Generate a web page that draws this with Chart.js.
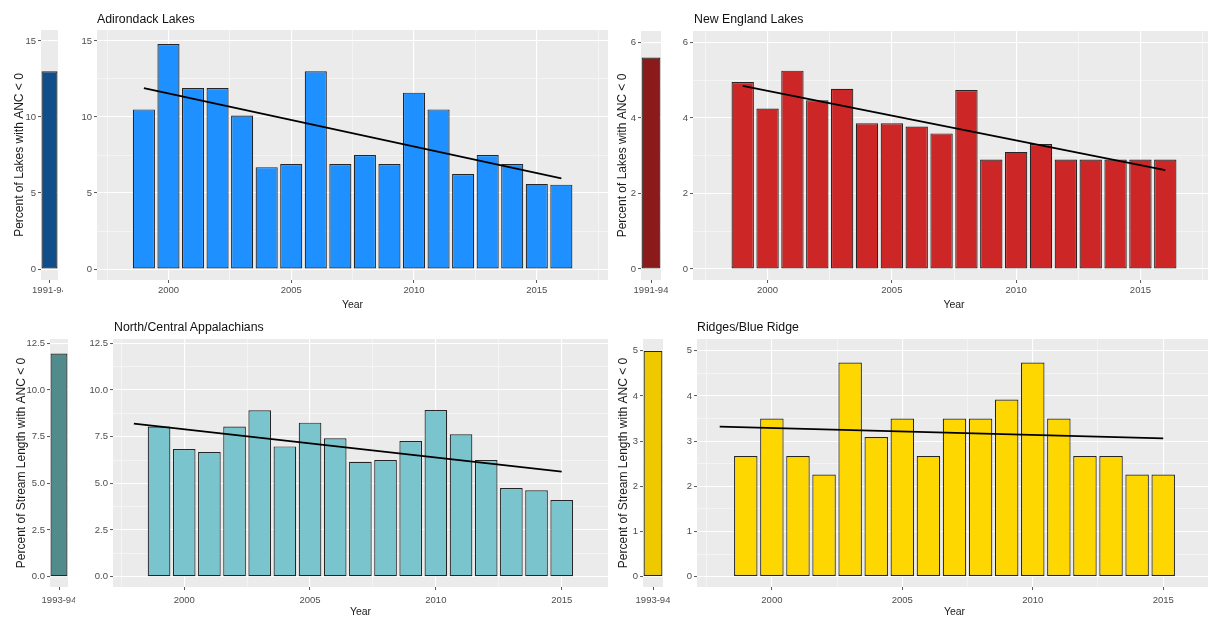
<!DOCTYPE html>
<html lang="en">
<head>
  <meta charset="UTF-8">
  <title>Percent of Lakes and Streams with ANC &lt; 0</title>

  <!-- Chart.js -->
  <script src="https://cdn.jsdelivr.net/npm/chart.js"></script>

  <style>
    body {
      margin: 0;
      width: 1208px;
      height: 617px;
      overflow: hidden;
      position: relative;
      background: #fff;
      font-family: "Liberation Sans", Arial, sans-serif;
    }
    canvas { position: absolute; }
    .ptitle {
      position: absolute;
      font-size: 12.3px;
      line-height: 1;
      color: #111;
      white-space: nowrap;
    }
  </style>
</head>

<body>

  <!-- top row: lakes -->
  <canvas id="adkBase" width="63" height="310" style="left:0;top:0"></canvas>
  <canvas id="adkMain" width="547" height="310" style="left:63px;top:0;background:#fff"></canvas>
  <div class="ptitle" style="left:97px;top:13px">Adirondack Lakes</div>

  <canvas id="neBase" width="68" height="310" style="left:600px;top:0"></canvas>
  <canvas id="neMain" width="549" height="310" style="left:668px;top:0"></canvas>
  <div class="ptitle" style="left:694px;top:13px">New England Lakes</div>

  <!-- bottom row: streams -->
  <canvas id="appBase" width="75" height="307" style="left:0;top:310px"></canvas>
  <canvas id="appMain" width="535" height="307" style="left:75px;top:310px"></canvas>
  <div class="ptitle" style="left:114px;top:321px">North/Central Appalachians</div>

  <canvas id="brBase" width="70" height="307" style="left:600px;top:310px"></canvas>
  <canvas id="brMain" width="544" height="307" style="left:670px;top:310px"></canvas>
  <div class="ptitle" style="left:697px;top:321px">Ridges/Blue Ridge</div>

  <script>
    // ---- data ----
    // Adirondack lakes
    const adkBaseLabels = ['1991-94'];
    const adkBaseValues = [13.0];
    const adkYears  = [1999, 2000, 2001, 2002, 2003, 2004, 2005, 2006, 2007, 2008, 2009, 2010, 2011, 2012, 2013, 2014, 2015, 2016];
    const adkValues = [10.5, 14.8, 11.9, 11.9, 10.1, 6.7, 6.9, 13.0, 6.9, 7.5, 6.9, 11.6, 10.5, 6.25, 7.5, 6.9, 5.6, 5.55];
    const adkTrendYears  = [1999, 2016];
    const adkTrendValues = [11.9, 5.97];
    const adkYTicks = [0, 2.5, 5, 7.5, 10, 12.5, 15];
    const adkYMajor = [0, 5, 10, 15];

    // New England lakes
    const neBaseLabels = ['1991-94'];
    const neBaseValues = [5.6];
    const neYears  = [1999, 2000, 2001, 2002, 2003, 2004, 2005, 2006, 2007, 2008, 2009, 2010, 2011, 2012, 2013, 2014, 2015, 2016];
    const neValues = [4.95, 4.25, 5.25, 4.47, 4.77, 3.86, 3.86, 3.77, 3.59, 4.74, 2.9, 3.1, 3.31, 2.9, 2.9, 2.9, 2.9, 2.9];
    const neTrendYears  = [1999, 2016];
    const neTrendValues = [4.85, 2.62];
    const neYTicks = [0, 1, 2, 3, 4, 5, 6];
    const neYMajor = [0, 2, 4, 6];

    // North/Central Appalachian streams
    const appBaseLabels = ['1993-94'];
    const appBaseValues = [11.95];
    const appYears  = [1999, 2000, 2001, 2002, 2003, 2004, 2005, 2006, 2007, 2008, 2009, 2010, 2011, 2012, 2013, 2014, 2015];
    const appValues = [8.04, 6.84, 6.68, 8.04, 8.91, 6.98, 8.25, 7.41, 6.16, 6.25, 7.27, 8.93, 7.63, 6.25, 4.75, 4.63, 4.11];
    const appTrendYears  = [1998, 2015];
    const appTrendValues = [8.2, 5.63];
    const appYTicks = [0, 1.25, 2.5, 3.75, 5, 6.25, 7.5, 8.75, 10, 11.25, 12.5];
    const appYMajor = [0, 2.5, 5, 7.5, 10, 12.5];

    // Ridges/Blue Ridge streams
    const brBaseLabels = ['1993-94'];
    const brBaseValues = [5.0];
    const brYears  = [1999, 2000, 2001, 2002, 2003, 2004, 2005, 2006, 2007, 2008, 2009, 2010, 2011, 2012, 2013, 2014, 2015];
    const brValues = [2.67, 3.5, 2.67, 2.26, 4.74, 3.09, 3.5, 2.67, 3.5, 3.5, 3.92, 4.74, 3.5, 2.67, 2.67, 2.26, 2.26];
    const brTrendYears  = [1998, 2015];
    const brTrendValues = [3.32, 3.06];
    const brYTicks = [0, 0.5, 1, 1.5, 2, 2.5, 3, 3.5, 4, 4.5, 5];
    const brYMajor = [0, 1, 2, 3, 4, 5];

    // shared year axis
    const yearTicks = [1997.5, 2000, 2002.5, 2005, 2007.5, 2010, 2012.5, 2015, 2017.5];
    const yearMajor = [2000, 2005, 2010, 2015];

    const lakesTitle  = 'Percent of Lakes with ANC < 0';
    const streamTitle = 'Percent of Stream Length with ANC < 0';

    // ---- chart setup ----
    Chart.defaults.font.family = '"Liberation Sans", Arial, sans-serif';

    const TICK_COLOR = '#4d4d4d';
    const TEXT_COLOR = '#1a1a1a';
    const OUTLINE = '#262626';

    // grey ggplot-style panel behind the grid
    Chart.register({
      id: 'panelBg',
      beforeDraw(chart) {
        const { ctx, chartArea: a } = chart;
        ctx.save();
        ctx.fillStyle = '#ebebeb';
        ctx.fillRect(a.left, a.top, a.right - a.left, a.bottom - a.top);
        ctx.restore();
      }
    });

    function setTicks(scale, values) {
      scale.ticks = values
        .filter(v => v >= scale.min && v <= scale.max)
        .map(v => ({ value: v }));
    }

    function gridOpts(major, onArea = true) {
      const isMajor = c => c.tick && major.includes(c.tick.value);
      return {
        offset: false,
        drawOnChartArea: onArea,
        color: c => isMajor(c) ? '#ffffff' : 'rgba(255,255,255,0.8)',
        lineWidth: c => isMajor(c) ? 1.1 : 0.55,
        tickColor: c => isMajor(c) ? '#555' : 'rgba(0,0,0,0)',
        tickLength: 3,
        tickWidth: 1
      };
    }

    function yScale(p, width, title, titlePad) {
      return {
        type: 'linear',
        min: p.yMin,
        max: p.yMax,
        afterBuildTicks: sc => setTicks(sc, p.yTicks),
        afterFit: sc => { sc.width = width; sc.paddingTop = 0; sc.paddingBottom = 0; },
        grid: gridOpts(p.yMajor),
        border: { display: false },
        ticks: {
          callback: v => p.yMajor.includes(v) ? p.fmt(v) : '',
          color: TICK_COLOR,
          font: { size: 9.5 },
          padding: 2,
          autoSkip: false
        },
        title: title ? {
          display: true,
          text: title,
          color: TEXT_COLOR,
          font: { size: 12, lineHeight: 1 },
          padding: { top: titlePad, bottom: 0 }
        } : { display: false }
      };
    }

    function baseChart(id, p) {
      return new Chart(document.getElementById(id), {
        type: 'bar',
        data: {
          labels: p.baseLabels,
          datasets: [{
            data: p.baseValues,
            backgroundColor: p.baseFill,
            borderColor: OUTLINE,
            borderWidth: 1.2,
            borderSkipped: false,
            barPercentage: 0.94,
            categoryPercentage: 1
          }]
        },
        options: {
          responsive: false,
          animation: false,
          layout: { padding: { top: p.padTop, right: p.basePadRight, left: 0, bottom: 0 } },
          plugins: { legend: { display: false }, tooltip: { enabled: false } },
          scales: {
            x: {
              afterFit: sc => { sc.height = 30; sc.paddingLeft = 0; sc.paddingRight = 0; },
              grid: { offset: false, drawOnChartArea: false, tickLength: 3, tickColor: '#555' },
              border: { display: false },
              ticks: {
                color: TICK_COLOR,
                font: { size: 9.5 },
                padding: p.xPad,
                maxRotation: 0,
                minRotation: 0,
                autoSkip: false
              }
            },
            y: yScale(p, p.baseYWidth, p.yTitle, p.yTitlePad)
          }
        }
      });
    }

    function mainChart(id, p) {
      return new Chart(document.getElementById(id), {
        type: 'bar',
        data: {
          datasets: [
            {
              type: 'line',
              data: p.trendYears.map((x, i) => ({ x, y: p.trendValues[i] })),
              borderColor: '#000',
              borderWidth: 1.8,
              pointRadius: 0,
              order: 0
            },
            {
              data: p.years.map((x, i) => ({ x, y: p.values[i] })),
              backgroundColor: p.fill,
              borderColor: OUTLINE,
              borderWidth: 1.2,
              borderSkipped: false,
              barPercentage: 0.9,
              categoryPercentage: 1,
              order: 1
            }
          ]
        },
        options: {
          responsive: false,
          animation: false,
          layout: { padding: { top: p.padTop, right: 2, left: 0, bottom: 0 } },
          plugins: { legend: { display: false }, tooltip: { enabled: false } },
          scales: {
            x: {
              type: 'linear',
              min: p.xMin,
              max: p.xMax,
              offset: false,
              afterBuildTicks: sc => setTicks(sc, yearTicks),
              afterFit: sc => { sc.height = 30; sc.paddingLeft = 0; sc.paddingRight = 0; },
              grid: gridOpts(yearMajor),
              border: { display: false },
              ticks: {
                callback: v => yearMajor.includes(v) ? String(v) : '',
                color: TICK_COLOR,
                font: { size: 9.5 },
                padding: p.xPad,
                maxRotation: 0,
                minRotation: 0,
                autoSkip: false
              },
              title: {
                display: true,
                text: 'Year',
                color: TEXT_COLOR,
                font: { size: 10.5, lineHeight: 1 },
                padding: 0
              }
            },
            y: yScale(p, p.mainYWidth)
          }
        }
      });
    }

    const intLabel = v => String(v);
    const oneDecimal = v => v.toFixed(1);

    const panels = [
      {
        base: 'adkBase', main: 'adkMain',
        baseLabels: adkBaseLabels, baseValues: adkBaseValues,
        years: adkYears, values: adkValues,
        trendYears: adkTrendYears, trendValues: adkTrendValues,
        yTicks: adkYTicks, yMajor: adkYMajor, fmt: intLabel,
        fill: '#1E90FF', baseFill: '#104E8B',
        yTitle: lakesTitle, yTitlePad: 14,
        yMin: -0.72, yMax: 15.72, xMin: 1997.09, xMax: 2017.9,
        padTop: 30, xPad: 2, baseYWidth: 41, basePadRight: 5, mainYWidth: 34
      },
      {
        base: 'neBase', main: 'neMain',
        baseLabels: neBaseLabels, baseValues: neBaseValues,
        years: neYears, values: neValues,
        trendYears: neTrendYears, trendValues: neTrendValues,
        yTicks: neYTicks, yMajor: neYMajor, fmt: intLabel,
        fill: '#CD2626', baseFill: '#8B1A1A',
        yTitle: lakesTitle, yTitlePad: 17,
        yMin: -0.29, yMax: 6.3, xMin: 1997.0, xMax: 2018.0,
        padTop: 31, xPad: 2, baseYWidth: 41, basePadRight: 7, mainYWidth: 25
      },
      {
        base: 'appBase', main: 'appMain',
        baseLabels: appBaseLabels, baseValues: appBaseValues,
        years: appYears, values: appValues,
        trendYears: appTrendYears, trendValues: appTrendValues,
        yTicks: appYTicks, yMajor: appYMajor, fmt: oneDecimal,
        fill: '#7AC5CD', baseFill: '#528B8B',
        yTitle: streamTitle, yTitlePad: 15.7,
        yMin: -0.55, yMax: 12.73, xMin: 1997.17, xMax: 2016.84,
        padTop: 29, xPad: 5, baseYWidth: 50, basePadRight: 7, mainYWidth: 38
      },
      {
        base: 'brBase', main: 'brMain',
        baseLabels: brBaseLabels, baseValues: brBaseValues,
        years: brYears, values: brValues,
        trendYears: brTrendYears, trendValues: brTrendValues,
        yTicks: brYTicks, yMajor: brYMajor, fmt: intLabel,
        fill: '#FFD700', baseFill: '#EEC900',
        yTitle: streamTitle, yTitlePad: 18,
        yMin: -0.23, yMax: 5.26, xMin: 1997.13, xMax: 2016.87,
        padTop: 29, xPad: 5, baseYWidth: 43, basePadRight: 7, mainYWidth: 27
      }
    ];

    panels.forEach(p => {
      baseChart(p.base, p);
      mainChart(p.main, p);
    });
  </script>

</body>
</html>
